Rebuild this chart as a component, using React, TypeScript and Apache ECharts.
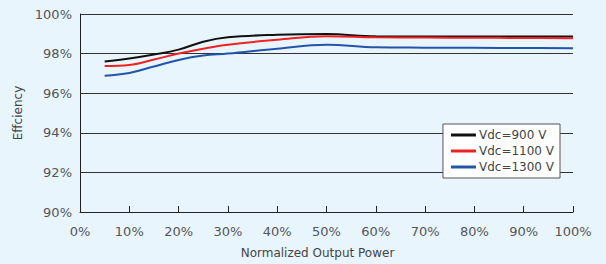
import React, { useEffect, useRef } from "react";
import * as echarts from "echarts";

const xPower = [5, 10, 15, 20, 25, 30, 40, 50, 60, 70, 80, 90, 100];
const eff900 = [97.6, 97.75, 97.95, 98.2, 98.6, 98.82, 98.95, 98.99, 98.87, 98.86, 98.86, 98.86, 98.86];
const eff1100 = [97.37, 97.42, 97.7, 98.0, 98.25, 98.45, 98.7, 98.88, 98.82, 98.81, 98.8, 98.79, 98.78];
const eff1300 = [96.88, 97.02, 97.35, 97.68, 97.9, 98.0, 98.25, 98.45, 98.32, 98.3, 98.29, 98.28, 98.27];
const seriesNames = ["Vdc=900 V", "Vdc=1100 V", "Vdc=1300 V"];
const seriesColors = ["#111111", "#ee2222", "#2255aa"];

export default function App() {
  const ref = useRef<HTMLDivElement>(null);
  useEffect(() => {
    if (!ref.current) return;
    const chart = echarts.init(ref.current, null, { renderer: "svg" });
    const datasets = [eff900, eff1100, eff1300];
    const font = "'DejaVu Sans', sans-serif";
    chart.setOption({
      animation: false,
      backgroundColor: "#E9F5FD",
      textStyle: { fontFamily: font },
      grid: { left: 80, right: 33, top: 14, bottom: 50, containLabel: false },
      legend: {
        orient: "vertical",
        right: 46,
        top: 124,
        backgroundColor: "#ffffff",
        borderColor: "#555555",
        borderWidth: 1,
        borderRadius: 0,
        padding: [5, 6, 5, 8],
        itemGap: 4,
        itemWidth: 25,
        itemHeight: 3,
        icon: "rect",
        textStyle: { fontSize: 12, color: "#444", fontFamily: font, padding: [0, 0, 0, -2] },
        data: seriesNames,
      },
      xAxis: {
        type: "value",
        min: 0,
        max: 100,
        interval: 10,
        name: "Normalized Output Power",
        nameLocation: "middle",
        nameGap: 35,
        nameTextStyle: { fontSize: 12, color: "#444", fontFamily: font, padding: [0, 18, 0, 0] },
        axisLine: { show: true, lineStyle: { color: "#222", width: 1 } },
        axisTick: { show: true, inside: true, length: 6, lineStyle: { color: "#222" } },
        axisLabel: { formatter: "{value}%", fontSize: 13, color: "#555", margin: 13, fontFamily: font },
        splitLine: { show: false },
      },
      yAxis: {
        type: "value",
        min: 90,
        max: 100,
        interval: 2,
        name: "Effciency",
        nameLocation: "middle",
        nameGap: 50,
        nameTextStyle: { fontSize: 12, color: "#444", fontFamily: font },
        axisLine: { show: true, lineStyle: { color: "#222", width: 1 } },
        axisTick: { show: false },
        axisLabel: { formatter: "{value}%", fontSize: 13, color: "#555", margin: 8, fontFamily: font },
        splitLine: { show: true, lineStyle: { color: "#333", width: 1 } },
      },
      series: datasets.map((d, i) => ({
        name: seriesNames[i],
        type: "line",
        smooth: 0.4,
        showSymbol: false,
        data: xPower.map((x, j) => [x, d[j]]),
        lineStyle: { color: seriesColors[i], width: 2 },
        itemStyle: { color: seriesColors[i] },
      })),
    });
    return () => chart.dispose();
  }, []);
  return <div ref={ref} style={{ width: 606, height: 264, position: "absolute", left: 0, top: 0 }} />;
}
